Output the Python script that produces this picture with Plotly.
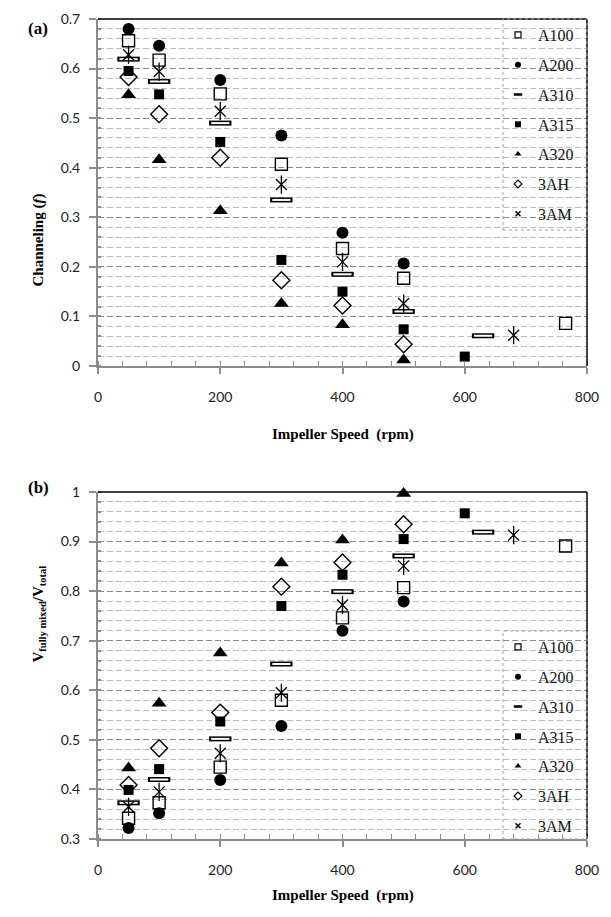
import plotly.graph_objects as go
from plotly.subplots import make_subplots

series = ["A100", "A200", "A310", "A315", "A320", "3AH", "3AM"]

speed_A100 = [50, 100, 200, 300, 400, 500, 765]
speed_A200 = [50, 100, 200, 300, 400, 500]
speed_A310 = [50, 100, 200, 300, 400, 500, 630]
speed_A315 = [50, 100, 200, 300, 400, 500, 600]
speed_A320 = [50, 100, 200, 300, 400, 500]
speed_3AH = [50, 100, 200, 300, 400, 500]
speed_3AM = [50, 100, 200, 300, 400, 500, 680]

chan_A100 = [0.656, 0.617, 0.549, 0.407, 0.237, 0.177, 0.086]
chan_A200 = [0.680, 0.646, 0.577, 0.465, 0.269, 0.207]
chan_A310 = [0.619, 0.574, 0.490, 0.335, 0.185, 0.110, 0.061]
chan_A315 = [0.595, 0.548, 0.452, 0.214, 0.150, 0.074, 0.019]
chan_A320 = [0.547, 0.416, 0.313, 0.126, 0.083, 0.012]
chan_3AH = [0.583, 0.508, 0.420, 0.173, 0.122, 0.044]
chan_3AM = [0.628, 0.594, 0.514, 0.366, 0.210, 0.126, 0.062]

vfm_A100 = [0.342, 0.373, 0.445, 0.580, 0.746, 0.807, 0.891]
vfm_A200 = [0.322, 0.352, 0.419, 0.528, 0.720, 0.779]
vfm_A310 = [0.373, 0.420, 0.502, 0.653, 0.799, 0.871, 0.919]
vfm_A315 = [0.399, 0.441, 0.537, 0.770, 0.833, 0.905, 0.957]
vfm_A320 = [0.443, 0.574, 0.675, 0.857, 0.903, 0.997]
vfm_3AH = [0.409, 0.483, 0.555, 0.809, 0.858, 0.935]
vfm_3AM = [0.365, 0.395, 0.473, 0.595, 0.772, 0.851, 0.913]

x_ticks = [0, 200, 400, 600, 800]
x_ticklabels = ["0", "200", "400", "600", "800"]
ya_ticks = [0, 0.1, 0.2, 0.3, 0.4, 0.5, 0.6, 0.7]
ya_ticklabels = ["0", "0.1", "0.2", "0.3", "0.4", "0.5", "0.6", "0.7"]
yb_ticks = [0.3, 0.4, 0.5, 0.6, 0.7, 0.8, 0.9, 1.0]
yb_ticklabels = ["0.3", "0.4", "0.5", "0.6", "0.7", "0.8", "0.9", "1"]

speeds = {"A100": speed_A100, "A200": speed_A200, "A310": speed_A310, "A315": speed_A315,
          "A320": speed_A320, "3AH": speed_3AH, "3AM": speed_3AM}
chan = {"A100": chan_A100, "A200": chan_A200, "A310": chan_A310, "A315": chan_A315,
        "A320": chan_A320, "3AH": chan_3AH, "3AM": chan_3AM}
vfm = {"A100": vfm_A100, "A200": vfm_A200, "A310": vfm_A310, "A315": vfm_A315,
       "A320": vfm_A320, "3AH": vfm_3AH, "3AM": vfm_3AM}

W, H = 611, 917
fig = make_subplots(rows=2, cols=1)

def layers(name):
    if name == "A100":
        return [dict(symbol="square-open", size=12, color="black", line=dict(width=1.4, color="black"))]
    if name == "A200":
        return [dict(symbol="circle", size=12, color="black", line=dict(width=0))]
    if name == "A310":
        return [dict(symbol="line-ew-open", size=16, color="black", line=dict(width=5, color="black")),
                dict(symbol="line-ew-open", size=13, color="white", line=dict(width=2, color="white"))]
    if name == "A315":
        return [dict(symbol="square", size=10, color="black", line=dict(width=0))]
    if name == "A320":
        return [dict(symbol="triangle-up", size=13, color="black", line=dict(width=0))]
    if name == "3AH":
        return [dict(symbol="diamond-open", size=13, color="black", line=dict(width=1.4, color="black"))]
    if name == "3AM":
        return [dict(symbol="x-thin-open", size=11, color="black", line=dict(width=1.3, color="black")),
                dict(symbol="line-ns-open", size=13, color="black", line=dict(width=1.3, color="black"))]

def legend_marker(name):
    if name == "A100":
        return dict(symbol="square-open", size=6, color="black", line=dict(width=1.2, color="black"))
    if name == "A200":
        return dict(symbol="circle", size=6, color="black")
    if name == "A310":
        return dict(symbol="line-ew-open", size=6, color="black", line=dict(width=2.5, color="black"))
    if name == "A315":
        return dict(symbol="square", size=6, color="black")
    if name == "A320":
        return dict(symbol="triangle-up", size=6, color="black")
    if name == "3AH":
        return dict(symbol="diamond-open", size=6, color="black", line=dict(width=1.2, color="black"))
    if name == "3AM":
        return dict(symbol="x-thin-open", size=5, color="black", line=dict(width=1.5, color="black"))

for row, data, leg in [(1, chan, "legend"), (2, vfm, "legend2")]:
    for name in series:
        for m in layers(name):
            fig.add_trace(go.Scatter(x=speeds[name], y=data[name], mode="markers", marker=m,
                                     showlegend=False, cliponaxis=False, hoverinfo="skip"),
                          row=row, col=1)
    for i, name in enumerate(series):
        fig.add_trace(go.Scatter(x=[None], y=[None], mode="markers", name=name,
                                 marker=legend_marker(name), showlegend=True, legend=leg,
                                 legendgroup=f"{leg}{i}"), row=row, col=1)

xd = [98 / W, 587 / W]
ya_dom = [1 - 366 / H, 1 - 19 / H]
yb_dom = [1 - 839 / H, 1 - 492 / H]

tickfont = dict(family="Lato, Carlito, sans-serif", size=14, color="#222")
axcol = "#8c8c8c"
common_x = dict(range=[0, 800], tickvals=x_ticks, ticktext=x_ticklabels, showgrid=False,
                zeroline=False, showline=True, linecolor=axcol, linewidth=2,
                ticks="outside", ticklen=6, tickcolor=axcol, tickwidth=1.5,
                ticklabelstandoff=11, tickfont=tickfont,
                minor=dict(dtick=40, ticks="inside", ticklen=5, tickcolor=axcol, tickwidth=1, showgrid=False),
                automargin=False, fixedrange=True)
common_y = dict(showgrid=True, gridcolor="#8a8a8a", gridwidth=1, griddash="6px,3px",
                zeroline=False, showline=True, linecolor=axcol, linewidth=2,
                ticks="outside", ticklen=7, tickcolor=axcol, tickwidth=1.5,
                ticklabelstandoff=6, tickfont=tickfont, automargin=False, fixedrange=True)

fig.update_layout(
    xaxis=dict(domain=xd, **common_x),
    xaxis2=dict(domain=xd, **common_x),
    yaxis=dict(domain=ya_dom, range=[0, 0.7], tickvals=ya_ticks, ticktext=ya_ticklabels,
               minor=dict(dtick=0.02, tick0=0, showgrid=True, gridcolor="#bdbdbd", griddash="6px,3px",
                          gridwidth=1, ticks="inside", ticklen=3, tickcolor=axcol),
               **common_y),
    yaxis2=dict(domain=yb_dom, range=[0.3, 1.0], tickvals=yb_ticks, ticktext=yb_ticklabels,
                minor=dict(dtick=0.02, tick0=0.3, showgrid=True, gridcolor="#bdbdbd", griddash="6px,3px",
                           gridwidth=1, ticks="inside", ticklen=3, tickcolor=axcol),
                **common_y),
)

legfont = dict(family="Liberation Serif, Times New Roman, serif", size=16, color="#111")
for key, ytop in [("legend", 18), ("legend2", 630)]:
    fig.update_layout({key: dict(x=498 / W, y=1 - ytop / H, xanchor="left", yanchor="top",
                                 bgcolor="rgba(0,0,0,0)", borderwidth=0, font=legfont,
                                 tracegroupgap=6, itemwidth=30)})

shapes = []
for xr, yr in [("x domain", "y domain"), ("x2 domain", "y2 domain")]:
    shapes.append(dict(type="line", xref=xr, yref=yr, x0=0, x1=1, y0=1, y1=1,
                       line=dict(color="black", width=1.5)))
    shapes.append(dict(type="line", xref=xr, yref=yr, x0=1, x1=1, y0=0, y1=1,
                       line=dict(color="black", width=1.5)))
for y0, y1 in [(19, 230), (631, 839)]:
    shapes.append(dict(type="rect", xref="paper", yref="paper", x0=503 / W, x1=587 / W,
                       y0=1 - y1 / H, y1=1 - y0 / H, line=dict(color="#a0a0a0", width=1, dash="dot"),
                       fillcolor="rgba(0,0,0,0)"))

serif_b = dict(family="Liberation Serif, Times New Roman, serif", size=15, color="black")
annotations = [
    dict(text="<b>(a)</b>", x=26 / W, y=1 - 17 / H, xref="paper", yref="paper", showarrow=False,
         font=dict(family="Liberation Serif, serif", size=17, color="black")),
    dict(text="<b>(b)</b>", x=26 / W, y=1 - 487 / H, xref="paper", yref="paper", showarrow=False,
         font=dict(family="Liberation Serif, serif", size=17, color="black")),
    dict(text="<b>Impeller Speed  (rpm)</b>", x=343 / W, y=1 - 434 / H, xref="paper", yref="paper",
         showarrow=False, font=serif_b),
    dict(text="<b>Impeller Speed  (rpm)</b>", x=343 / W, y=1 - 906 / H, xref="paper", yref="paper",
         showarrow=False, font=serif_b),
    dict(text="<b>Channeling (<i>f</i>)</b>", x=38 / W, y=1 - 192 / H, xref="paper", yref="paper",
         xanchor="center", showarrow=False, textangle=-90, font=serif_b),
    dict(text="<b>V<sub>fully mixed</sub>/V<sub>total</sub></b>", x=38 / W, y=1 - 665 / H,
         xref="paper", yref="paper", xanchor="center", showarrow=False, textangle=-90, font=serif_b),
]

fig.update_layout(width=W, height=H, margin=dict(l=0, r=0, t=0, b=0),
                  paper_bgcolor="white", plot_bgcolor="white",
                  shapes=shapes, annotations=annotations, showlegend=True)

fig.write_html("out.html", config={"displayModeBar": False},
               post_script="document.body.style.margin='0px';document.documentElement.style.overflow='hidden';document.body.style.overflow='hidden';")
